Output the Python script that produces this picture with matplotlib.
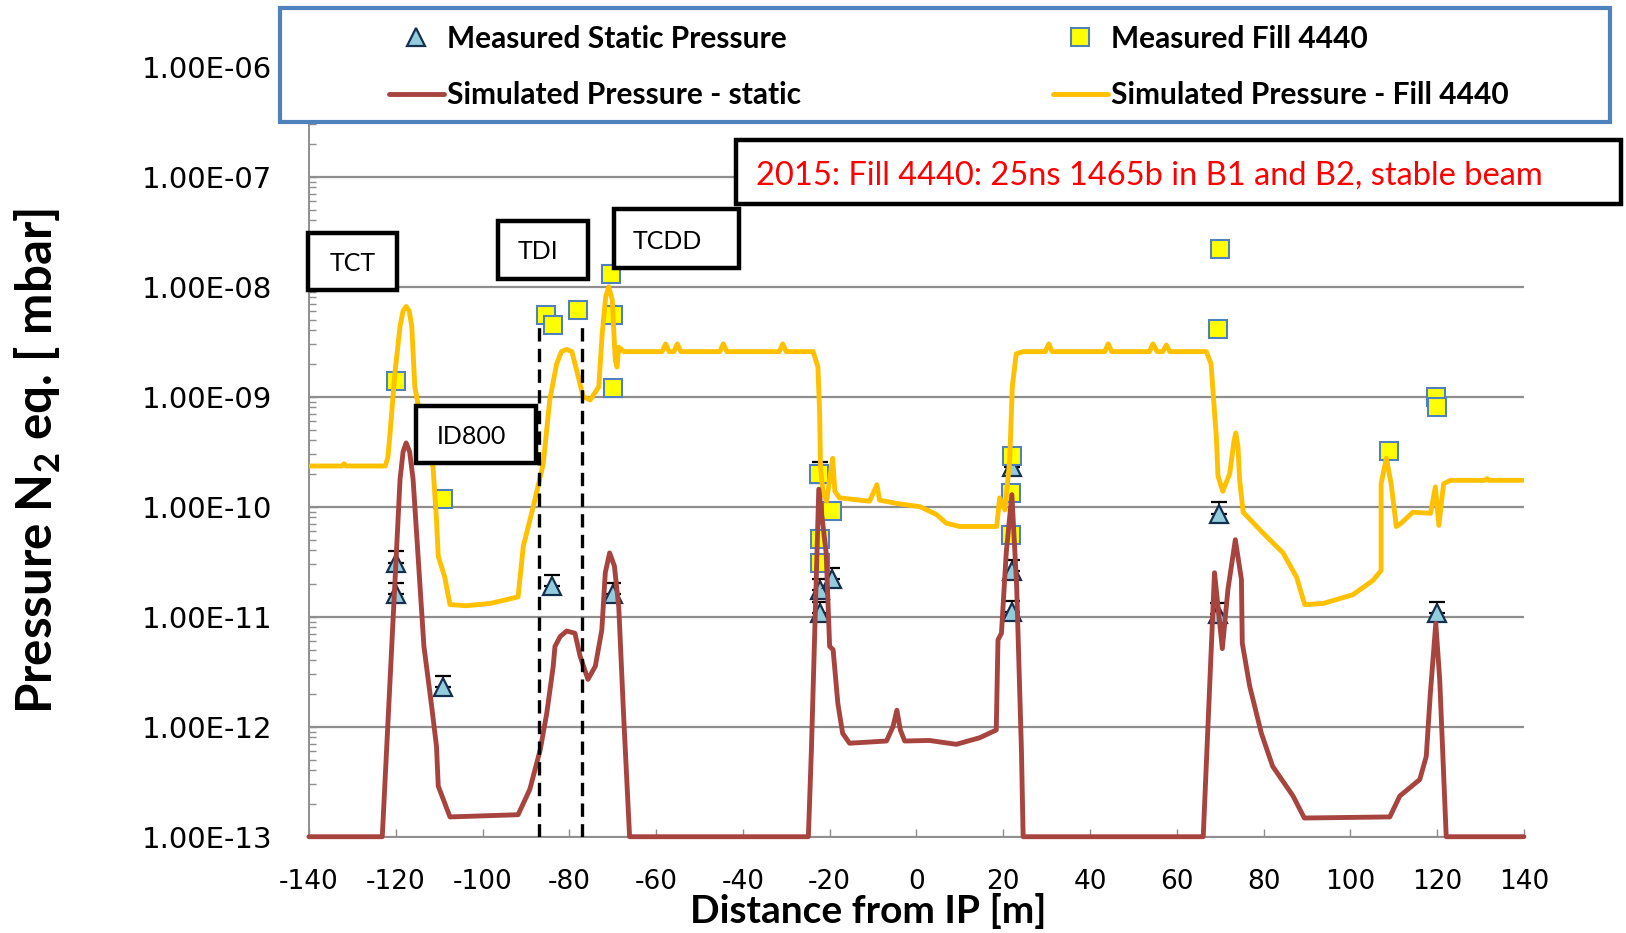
"""LHC IR vacuum: measured vs simulated pressure profile, fill 4440 vs static."""
import numpy as np
import matplotlib
matplotlib.use("Agg")
import matplotlib.pyplot as plt
from matplotlib.patches import Rectangle
from matplotlib.ticker import LogLocator, FuncFormatter, NullFormatter

plt.rcParams["mathtext.fontset"] = "custom"
plt.rcParams["mathtext.rm"] = "Lato"
plt.rcParams["mathtext.bf"] = "Lato:bold"
plt.rcParams["axes.unicode_minus"] = False

RED, GOLD = "#A8443F", "#FFC000"
TRI_FACE, TRI_EDGE = "#93CDDD", "#14304F"
SQ_FACE, SQ_EDGE = "#FFFF00", "#4F81BD"
GRID = "#8E8E8E"

# ---- data (distance from IP in m, pressure in mbar) ----
static_x = [-120, -120, -109, -84, -70, -22.3, -22.3, -22.3, -19.5,
            22, 22, 22, 69.7, 69.5, 120]
static_p = [3.1e-11, 1.6e-11, 2.3e-12, 1.9e-11, 1.6e-11, 2.0e-10, 1.75e-11,
            1.08e-11, 2.2e-11, 2.3e-10, 2.6e-11, 1.1e-11, 8.6e-11, 1.05e-11,
            1.07e-11]
static_err_frac = 0.27   # upper error bar (cap just above each triangle)

fill_x = [-120, -109, -85.3, -83.8, -78, -70.5, -70, -70, -22.4, -19.4,
          -22.2, -22.2, 22, 21.8, 21.8, 69.9, 69.6, 108.9, 119.8, 120]
fill_p = [1.4e-9, 1.18e-10, 5.5e-9, 4.5e-9, 6.2e-9, 1.3e-8, 5.5e-9, 1.2e-9,
          2.0e-10, 9.1e-11, 5.1e-11, 3.1e-11, 2.9e-10, 1.32e-10, 5.5e-11,
          2.2e-8, 4.1e-9, 3.2e-10, 1.0e-9, 8.0e-10]

# simulated profiles, digitised as log10(pressure)
fill_sim_x = [-140, -132.4, -131.9, -131.4, -122.4, -121.8, -121.3, -120.2,
              -119.0, -118.3, -117.6, -116.9, -116.3, -115.6, -113.5, -111.4,
              -110.6, -110.2, -108.7, -107.5, -103.7, -98.3, -91.8, -90.6,
              -88.3, -86.0, -84.5, -82.9, -81.8, -80.6, -79.4, -78.3, -76.8,
              -75.2, -73.2, -72.4, -71.6, -70.9, -70.1, -69.4, -69.0, -68.6,
              -67.4, -58.6, -57.8, -57.0, -55.9, -55.1, -54.3, -45.3, -44.5,
              -43.7, -31.6, -30.8, -30.0, -23.8, -22.7, -22.3, -22.1, -21.5,
              -20.7, -19.6, -19.3, -18.8, -17.7, -10.8, -9.1, -8.5, -4.6, 0.8,
              4.6, 6.9, 10.0, 18.5, 19.2, 20.4, 21.5, 22.1, 23.0, 24.6, 29.7,
              30.5, 31.3, 43.4, 44.2, 45.0, 53.7, 54.5, 55.5, 56.8, 57.6, 58.4,
              66.8, 67.9, 68.5, 69.1, 69.5, 70.6, 72.2, 73.2, 73.6, 74.1, 74.5,
              75.3, 79.9, 84.5, 87.6, 89.5, 93.7, 100.6, 105.2, 107.1, 107.1,
              108.3, 109.4, 110.6, 111.7, 114.4, 118.5, 119.6, 120.4, 121.5,
              123.1, 131.0, 131.5, 132.0, 140]
fill_sim_log = [-9.63, -9.63, -9.61, -9.63, -9.63, -9.55, -9.33, -8.79,
                -8.36, -8.22, -8.18, -8.22, -8.36, -8.91, -9.35, -9.64,
                -10.12, -10.45, -10.64, -10.89, -10.90, -10.88, -10.82, -10.36,
                -10.0, -9.61, -9.03, -8.70, -8.59, -8.57, -8.59, -8.76, -9.0,
                -9.03, -8.91, -8.42, -8.09, -8.0, -8.12, -8.67, -8.73, -8.55,
                -8.59, -8.59, -8.52, -8.59, -8.59, -8.52, -8.59, -8.59, -8.52,
                -8.59, -8.59, -8.52, -8.59, -8.59, -8.73, -9.15, -9.64, -9.88,
                -9.95, -9.64, -9.56, -9.86, -9.92, -9.95, -9.80, -9.94, -9.97,
                -10.0, -10.07, -10.15, -10.18, -10.18, -9.92, -10.03, -9.58,
                -8.91, -8.61, -8.59, -8.59, -8.52, -8.59, -8.59, -8.52, -8.59,
                -8.59, -8.52, -8.59, -8.59, -8.53, -8.59, -8.59, -8.70, -9.03,
                -9.35, -9.72, -9.86, -9.70, -9.40, -9.33, -9.45, -9.76, -10.05,
                -10.24, -10.42, -10.64, -10.89, -10.88, -10.80, -10.67, -10.58,
                -9.79, -9.56, -9.79, -10.18, -10.15, -10.05, -10.06, -9.82,
                -10.17, -9.79, -9.76, -9.76, -9.745, -9.76, -9.76]

static_sim_x = [-140, -123.1, -119.0, -118.3, -117.6, -116.8, -116.0, -113.5,
                -111.7, -110.6, -110.2, -107.5, -91.8, -89.1, -86.7, -85.2,
                -83.7, -83.3, -82.1, -80.6, -78.7, -77.5, -75.7, -74.0, -72.5,
                -71.7, -70.7, -69.6, -68.6, -67.5, -66.1, -24.9, -24.2, -22.5,
                -20.8, -20.0, -19.2, -18.1, -17.0, -15.4, -6.9, -5.4, -4.5,
                -3.7, -2.7, 3.0, 9.2, 14.6, 18.4, 18.8, 19.6, 20.7, 22.0, 23.1,
                24.2, 24.6, 66.1, 68.7, 70.5, 71.8, 73.5, 74.9, 75.1, 76.8,
                79.5, 82.1, 86.8, 89.4, 109.1, 111.4, 116.0, 117.5, 118.4,
                119.7, 120.6, 122.1, 140]
static_sim_log = [-13, -13, -9.75, -9.5, -9.42, -9.5, -9.75, -11.27, -11.82,
                  -12.18, -12.54, -12.82, -12.80, -12.57, -12.21, -11.88,
                  -11.45, -11.27, -11.18, -11.13, -11.15, -11.36, -11.57,
                  -11.45, -11.12, -10.60, -10.42, -10.54, -10.91, -11.88, -13,
                  -13, -12.21, -9.84, -10.42, -11.27, -11.30, -11.79, -12.06,
                  -12.15, -12.13, -12.0, -11.85, -12.03, -12.13, -12.125,
                  -12.16, -12.10, -12.03, -11.21, -11.15, -10.42, -9.89,
                  -10.72, -12.21, -13, -13, -10.60, -11.29, -10.75, -10.30,
                  -10.66, -11.24, -11.63, -12.06, -12.36, -12.63, -12.83,
                  -12.82, -12.63, -12.48, -12.27, -11.72, -11.06, -11.57, -13,
                  -13]

tdi_x = [-87, -77]          # dashed markers around the TDI
tdi_top = 4.5e-9

# ---- figure ----
fig = plt.figure(figsize=(16.26, 9.33), dpi=100)
fig.patch.set_facecolor("white")
ax = fig.add_axes([0.1900, 0.1032, 0.7472, 0.8253])

ax.set_yscale("log")
ax.set_xlim(-140, 140)
ax.set_ylim(1e-13, 1e-6)

ax.errorbar(static_x, static_p,
            yerr=[np.zeros(len(static_p)), np.array(static_p) * static_err_frac],
            fmt="none", ecolor="black", elinewidth=1.2, capsize=5.5,
            capthick=1.6, zorder=3)
tri, = ax.plot(static_x, static_p, ls="none", marker="^", ms=13,
               mfc=TRI_FACE, mec=TRI_EDGE, mew=1.6, zorder=3.2,
               label="Measured Static Pressure")
sq, = ax.plot(fill_x, fill_p, ls="none", marker="s", ms=13,
              mfc=SQ_FACE, mec=SQ_EDGE, mew=1.5, zorder=3.5,
              label="Measured Fill 4440")
gold, = ax.plot(fill_sim_x, np.power(10.0, fill_sim_log), color=GOLD, lw=3.5,
                zorder=4, solid_joinstyle="round", solid_capstyle="round",
                label="Simulated Pressure - Fill 4440")
red, = ax.plot(static_sim_x, np.power(10.0, static_sim_log), color=RED, lw=3.5,
               zorder=5, clip_on=False, solid_joinstyle="round",
               solid_capstyle="round", label="Simulated Pressure - static")
ax.vlines(tdi_x, 1e-13, tdi_top, colors="black", lw=2.4,
          linestyles=(0, (4, 2.2)), zorder=6)

# axes styling
ax.yaxis.set_major_locator(LogLocator(base=10, numticks=12))
ax.yaxis.set_minor_locator(LogLocator(base=10, subs=np.arange(2, 10), numticks=100))
ax.yaxis.set_major_formatter(FuncFormatter(lambda v, _: f"{v:.2E}"))
ax.yaxis.set_minor_formatter(NullFormatter())
ax.set_xticks(np.arange(-140, 141, 20))
ax.grid(True, axis="y", which="major", color=GRID, lw=1.6)
ax.set_axisbelow(True)
for s in ("top", "right"):
    ax.spines[s].set_visible(False)
for s in ("left", "bottom"):
    ax.spines[s].set_color(GRID)
    ax.spines[s].set_linewidth(1.4)
ax.tick_params(axis="x", direction="in", length=6, width=1, color=GRID,
               labelsize=19, pad=23)
ax.tick_params(axis="y", which="major", direction="in", length=6, width=1,
               color=GRID, labelsize=21, pad=26.5)
ax.tick_params(axis="y", which="minor", direction="in", length=5, width=1,
               color=GRID)

fig.text(0.0325, 0.5054, r"Pressure N$_\mathbf{2}$ eq. [ mbar]", rotation=90,
         rotation_mode="anchor", ha="center", va="baseline",
         family="Lato", fontweight="bold", fontsize=35.5)
fig.text(0.5338, 0.011, "Distance from IP [m]", ha="center", va="baseline",
         family="Lato", fontweight="bold", fontsize=28)

# legend box across the top
fig.add_artist(Rectangle((270 / 1568, 1 - 118 / 900), 1283 / 1568, 110 / 900,
                         transform=fig.transFigure, fc="white", ec=SQ_EDGE,
                         lw=3, zorder=2))
leg_font = dict(family="Lato", weight="bold", size=21.5)
for handles, left in (([tri, red], 375), ([sq, gold], 1015)):
    fig.legend(handles=handles, loc="center left",
               bbox_to_anchor=(left / 1568, 1 - 64.5 / 900), frameon=False,
               borderpad=0, borderaxespad=0, handlelength=1.85,
               handletextpad=0.1, labelspacing=0.96, numpoints=1, prop=leg_font)


def label_box(x0, y0, x1, y1, text, tx, ty, size=18, color="black", ha="center"):
    fig.add_artist(Rectangle((x0 / 1568, 1 - y1 / 900), (x1 - x0) / 1568,
                             (y1 - y0) / 900, transform=fig.transFigure,
                             fc="white", ec="black", lw=3.2, joinstyle="miter",
                             zorder=3))
    fig.text(tx / 1568, 1 - ty / 900, text, ha=ha, va="center", family="Lato",
             fontsize=size, color=color, zorder=4)


label_box(297.3, 224.4, 382.5, 279.7, "TCT", 339.8, 254)
label_box(480.5, 212.8, 566.7, 269.0, "TDI", 519.1, 243)
label_box(592.1, 201.8, 712.6, 258.1, "TCDD", 643.8, 232.5)
label_box(400.9, 391.5, 516.9, 446.8, "ID800", 454.9, 421)
label_box(710, 135, 1563, 197, "2015: Fill 4440: 25ns 1465b in B1 and B2, stable beam",
          729, 169, size=23.5, color="#FF0000", ha="left")

fig.savefig("out.png", dpi=100, facecolor="white")
